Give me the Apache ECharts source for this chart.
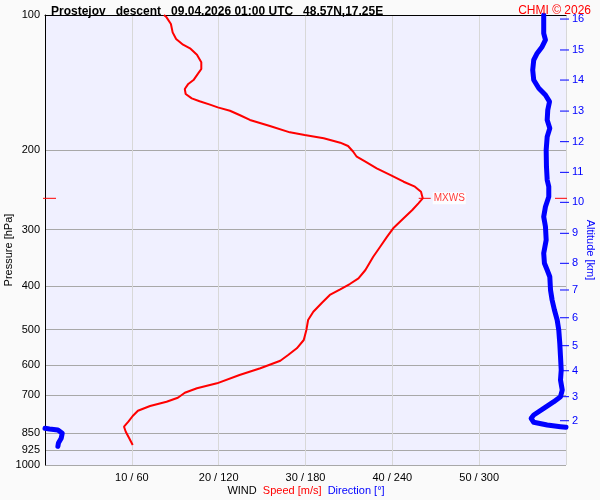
<!DOCTYPE html>
<html><head><meta charset="utf-8">
<script src="https://cdn.jsdelivr.net/npm/echarts@6/dist/echarts.min.js"></script>
<style>html,body{margin:0;padding:0;background:#fafafa}#c{width:600px;height:500px}</style>
</head><body><div id="c"></div>
<script>
// ---- data ----
const titleText = 'Prostejov   descent   09.04.2026 01:00 UTC   48.57N,17.25E';
const creditText = 'CHMI \u00a9 2026';
const pressureTicks = [100, 200, 300, 400, 500, 600, 700, 850, 925, 1000];
const altitudeKm = [2, 3, 4, 5, 6, 7, 8, 9, 10, 11, 12, 13, 14, 15, 16];
const altitudePressure = [797.3, 705.0, 617.3, 543.1, 470.7, 408.4, 356.3, 305.6, 260.8, 223.7, 191.2, 163.5, 139.5, 119.6, 102.1];
const speedTicks = [10, 20, 30, 40, 50];

// wind speed [m/s] vs pressure [hPa]
const speedPressure = [100, 101.2, 104.7, 109.3, 113.1, 116.4, 118.6, 122.5, 127.4, 131.8, 135.2, 139.5, 142.3, 146.0, 149.8, 153.2, 155.5, 158.2, 160.4, 163.2, 166.8, 171.1, 176.5, 182.3, 184.8, 187.9, 192.2, 195.5, 201.3, 206.5, 211.8, 219.1, 226.8, 234.7, 240.7, 247.0, 255.5, 262.1, 271.2, 283.0, 297.9, 310.9, 327.3, 344.5, 368.7, 384.7, 396.1, 407.0, 419.0, 435.9, 456.4, 476.2, 501.2, 527.5, 550.4, 569.6, 586.5, 609.7, 631.0, 658.4, 675.4, 690.8, 708.7, 723.4, 739.5, 757.4, 778.3, 801.3, 822.1, 843.4, 872.3, 902.8];
const speedValues = [13.7, 14.0, 14.5, 14.7, 15.1, 15.9, 16.7, 17.5, 18.0, 18.0, 17.6, 17.1, 16.5, 16.1, 16.2, 16.9, 17.8, 19.0, 19.9, 21.3, 22.4, 23.6, 25.9, 28.2, 29.9, 32.1, 34.0, 34.9, 35.5, 35.9, 36.9, 38.2, 39.8, 41.3, 42.6, 43.3, 43.5, 43.0, 42.3, 41.3, 40.1, 39.4, 38.6, 37.8, 36.9, 36.1, 35.1, 34.0, 32.8, 31.9, 30.9, 30.3, 30.1, 29.8, 29.0, 28.0, 27.1, 24.8, 22.4, 19.8, 17.5, 16.1, 15.3, 14.0, 12.1, 10.7, 10.1, 9.6, 9.1, 9.3, 9.7, 10.1];

// wind direction [deg] vs pressure [hPa]
const dirPressure = [100, 109.8, 113.6, 117.6, 121.6, 125.9, 132.5, 139.5, 145.5, 150.6, 155.8, 162.6, 171.1, 178.6, 186.4, 199.5, 217.3, 232.6, 240.7, 253.4, 266.7, 280.7, 295.4, 316.2, 338.5, 356.3, 368.7, 381.6, 408.4, 429.9, 452.5, 476.2, 501.2, 536.5, 574.6, 615.1, 647.4, 681.3, 705.1, 723.4, 748.2, 774.3, 787.5, 803.8, 815.0, 822.1, 824.6, 828.8, 831.8, 836.1, 850.3, 872.3, 893.6, 909.2];
const dirValues = [344.6, 344.6, 345.8, 343.5, 340.1, 337.7, 337.0, 337.7, 341.2, 345.8, 348.6, 347.4, 347.0, 348.8, 347.0, 346.3, 346.5, 347.0, 348.1, 348.1, 345.8, 344.6, 345.8, 346.3, 344.6, 345.1, 347.0, 348.8, 349.3, 350.4, 352.0, 353.9, 355.0, 355.7, 356.2, 356.7, 356.2, 357.4, 356.2, 351.6, 344.6, 337.7, 335.9, 337.7, 347.0, 356.2, 360, 0, 3.1, 8.9, 11.9, 11.2, 9.3, 8.9];

// ---- build ----
const L = Math.log10;
const FONT = 'Liberation Sans, Arial, sans-serif';
const speedData = speedValues.map((s, i) => [s, L(speedPressure[i])]);
const dirData = [];
dirValues.forEach((d, i) => {
  if (i > 0 && Math.abs(d - dirValues[i - 1]) > 180) dirData.push([null, null]);
  dirData.push([d, L(dirPressure[i])]);
});
let mi = 0;
speedValues.forEach((s, i) => { if (s > speedValues[mi]) mi = i; });
const maxWind = [speedValues[mi], L(speedPressure[mi])];
const altLog = altitudePressure.map(L);
const altData = altitudeKm.map((k, i) => [60, altLog[i], k]);

const chart = echarts.init(document.getElementById('c'), null, {renderer: 'canvas'});
chart.setOption({
  backgroundColor: '#fafafa',
  animation: false,
  textStyle: {fontFamily: FONT},
  title: [
    {text: titleText, left: 46, top: 1, textStyle: {fontSize: 12, fontWeight: 'bold', color: '#000', fontFamily: FONT}},
    {text: creditText, right: 4, top: 0, textStyle: {fontSize: 12, fontWeight: 'normal', color: '#ff0000', fontFamily: FONT}}
  ],
  grid: {left: 45, right: 34, top: 15, bottom: 35, show: true, backgroundColor: '#f0f0ff', borderWidth: 0,
         outerBoundsMode: 'none', containLabel: false},
  xAxis: [
    {type: 'value', min: 0, max: 60, interval: 10, position: 'bottom',
     axisLine: {show: false}, axisTick: {show: false},
     splitLine: {show: true, lineStyle: {color: '#d8d8d8', width: 1}},
     axisLabel: {color: '#000', fontSize: 11, margin: 7, fontFamily: FONT,
       formatter: v => speedTicks.indexOf(v) >= 0 ? v + ' / ' + v * 6 : ''}},
    {type: 'value', min: 0, max: 360, position: 'top',
     axisLine: {show: true, lineStyle: {color: '#000', width: 1}}, axisTick: {show: false},
     axisLabel: {show: false}, splitLine: {show: false}}
  ],
  yAxis: [
    {type: 'value', min: 2, max: 3, inverse: true, position: 'left',
     name: 'Pressure [hPa]', nameLocation: 'middle', nameRotate: 90, nameGap: 31, nameMoveOverlap: false,
     nameTextStyle: {color: '#000', fontSize: 11, fontFamily: FONT, padding: [0, 20, 0, 0]},
     axisLine: {show: true, lineStyle: {color: '#000', width: 1}},
     axisTick: {show: false, customValues: pressureTicks.map(L)},
     axisLabel: {customValues: pressureTicks.map(L), color: '#000', fontSize: 11, margin: 5, fontFamily: FONT,
       formatter: v => String(Math.round(Math.pow(10, v)))},
     splitLine: {show: true, lineStyle: {color: '#a8a8a8', width: 1}}},
    {type: 'value', min: 2, max: 3, inverse: true, position: 'right',
     name: 'Altitude [km]', nameLocation: 'middle', nameRotate: -90, nameGap: 19, nameMoveOverlap: false,
     nameTextStyle: {color: '#0000ff', fontSize: 11, fontFamily: FONT, padding: [0, 0, 0, 20]},
     axisLine: {show: false}, axisTick: {show: false}, axisLabel: {show: false}, splitLine: {show: false}}
  ],
  series: [
    {type: 'line', name: 'Direction', xAxisIndex: 1, yAxisIndex: 0, data: dirData,
     showSymbol: false, connectNulls: false, z: 3,
     lineStyle: {color: '#0000ff', width: 5, cap: 'round', join: 'round'}},
    {type: 'line', name: 'Speed', xAxisIndex: 0, yAxisIndex: 0, data: speedData,
     showSymbol: false, z: 4,
     lineStyle: {color: '#ff0000', width: 2}},
    {type: 'custom', name: 'Altitude', xAxisIndex: 0, yAxisIndex: 0, data: altData, clip: false, z: 5,
     renderItem: (params, api) => {
       const p = api.coord([api.value(0), api.value(1)]);
       return {type: 'group', children: [
         {type: 'line', shape: {x1: p[0] - 6, y1: p[1], x2: p[0] + 3, y2: p[1]}, style: {stroke: '#0000ff', lineWidth: 1}},
         {type: 'text', x: p[0] + 6, y: p[1], style: {text: String(api.value(2)), fill: '#0000ff', fontSize: 11, fontFamily: FONT,
           verticalAlign: 'middle', align: 'left'}}
       ]};
     }},
    {type: 'custom', name: 'MXWS', xAxisIndex: 0, yAxisIndex: 0, data: [maxWind], clip: false, z: 5,
     renderItem: (params, api) => {
       const p = api.coord([api.value(0), api.value(1)]);
       const l = api.coord([0, api.value(1)]);
       const r = api.coord([60, api.value(1)]);
       const st = {stroke: '#ff0000', lineWidth: 1};
       return {type: 'group', children: [
         {type: 'line', shape: {x1: l[0] - 2, y1: l[1], x2: l[0] + 11, y2: l[1]}, style: st},
         {type: 'line', shape: {x1: r[0] - 11, y1: r[1], x2: r[0] + 1, y2: r[1]}, style: st},
         {type: 'line', shape: {x1: p[0] - 4, y1: p[1], x2: p[0] + 8, y2: p[1]}, style: st},
         {type: 'text', x: p[0] + 10, y: p[1], style: {text: 'MXWS', fill: '#ff3b3b', fontSize: 10, fontFamily: FONT,
           verticalAlign: 'middle', align: 'left', backgroundColor: 'rgba(255,255,255,0.85)', padding: [1, 1]}}
       ]};
     }}
  ],
  graphic: [
    {type: 'text', x: 306, y: 491, style: {
      text: '{a|WIND}  {b|Speed [m/s]}  {c|Direction [\u00b0]}',
      align: 'center', verticalAlign: 'middle', fontSize: 11, fontFamily: FONT,
      rich: {a: {fill: '#000', fontSize: 11, fontFamily: FONT},
             b: {fill: '#ff0000', fontSize: 11, fontFamily: FONT},
             c: {fill: '#0000ff', fontSize: 11, fontFamily: FONT}}}}
  ]
});
</script></body></html>
